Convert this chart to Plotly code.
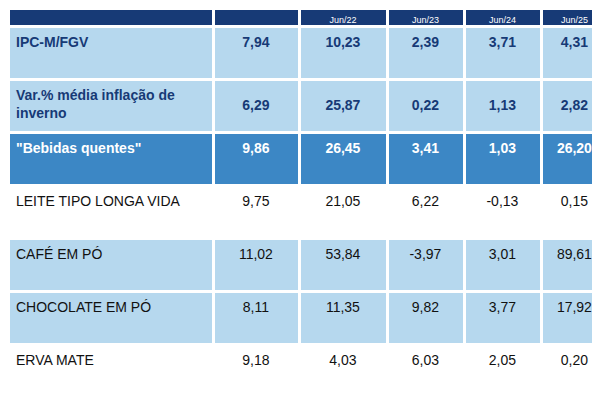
import plotly.graph_objects as go

header_labels = ["", "", "Jun/22", "Jun/23", "Jun/24", "Jun/25"]
row_labels = ["IPC-M/FGV", "Var.% média inflação de<br>inverno", "\"Bebidas quentes\"",
              "LEITE TIPO LONGA VIDA", "CAFÉ EM PÓ", "CHOCOLATE EM PÓ", "ERVA MATE"]
col1 = ["7,94", "6,29", "9,86", "9,75", "11,02", "8,11", "9,18"]
col2 = ["10,23", "25,87", "26,45", "21,05", "53,84", "11,35", "4,03"]
col3 = ["2,39", "0,22", "3,41", "6,22", "-3,97", "9,82", "6,03"]
col4 = ["3,71", "1,13", "1,03", "-0,13", "3,01", "3,77", "2,05"]
col5 = ["4,31", "2,82", "26,20", "0,15", "89,61", "17,92", "0,20"]

LIGHT, HIGH, WHITE, NAVY = "#b6d8ee", "#3c87c5", "#ffffff", "#173a76"
row_fill = [LIGHT, LIGHT, HIGH, WHITE, LIGHT, LIGHT, WHITE]
row_color = [NAVY, NAVY, "#ffffff", "#111111", "#111111", "#111111", "#111111"]
bold = [True, True, True, False, False, False, False]

def fmt(v, b, two_line_row):
    s = f"<b>{v}</b>" if b else v
    if "<br>" in v:
        return s
    # push single-line text down to vertically centre it
    return ("<br>" + s) if not two_line_row or True else s

cols = [row_labels, col1, col2, col3, col4, col5]
cell_vals = []
for c in cols:
    out = []
    for i, (v, b) in enumerate(zip(c, bold)):
        s = f"<b>{v}</b>" if b else v
        if "<br>" in v:
            out.append(s)
        elif i == 1:
            out.append('<span style="font-size:6px"> </span><br>' + s)
        else:
            out.append("<br>" + s)
    cell_vals.append(out)

fig = go.Figure(go.Table(
    columnwidth=[205, 86, 88, 77, 77, 67],
    header=dict(values=header_labels, fill_color=NAVY, height=18,
                line=dict(color="white", width=3),
                font=dict(color="white", size=9, family="Liberation Sans"),
                align="center"),
    cells=dict(values=cell_vals, height=53,
               fill_color=[row_fill] * 6,
               line=dict(color="white", width=3),
               font=dict(color=[row_color] * 6, size=14, family="Liberation Sans"),
               align=["left"] + ["center"] * 5),
    domain=dict(x=[0, 1], y=[0, 1]),
))
fig.update_layout(width=600, height=400, margin=dict(l=0, r=0, t=0, b=0),
                  paper_bgcolor="white")
fig.write_html("out.html")
